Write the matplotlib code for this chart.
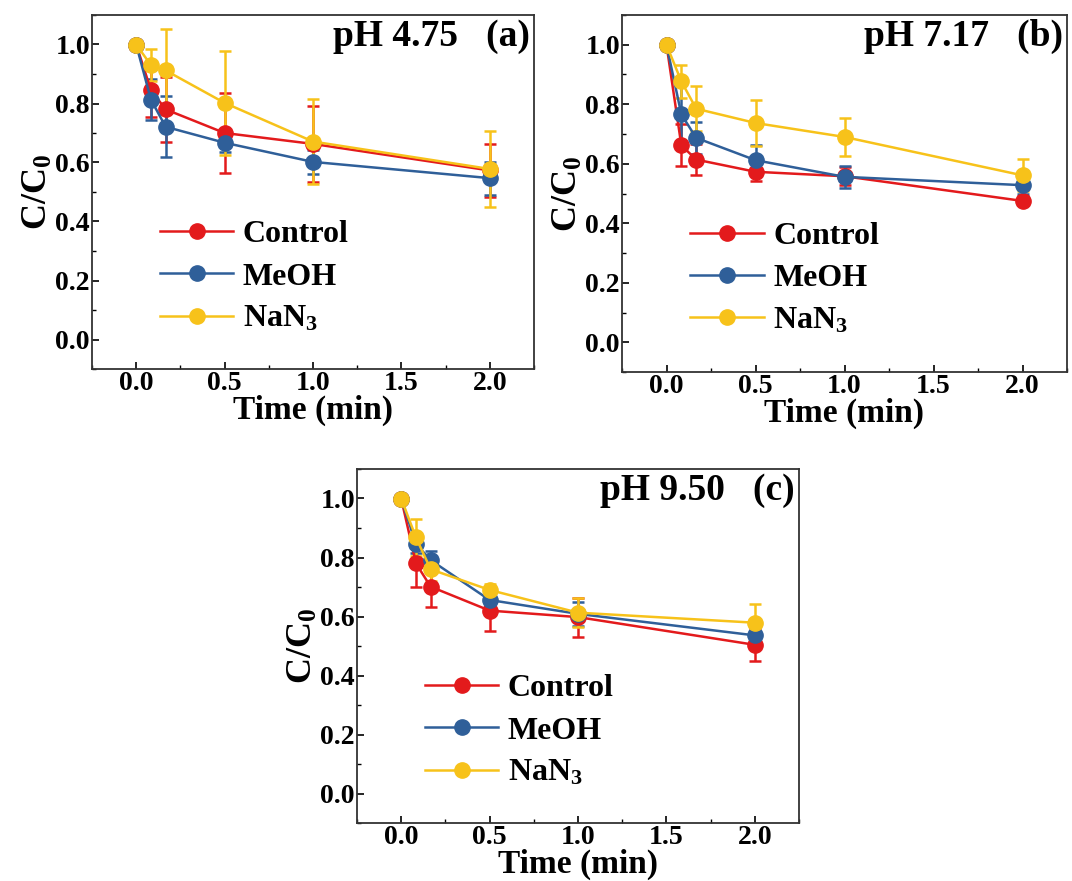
import numpy as np
import matplotlib
matplotlib.use("Agg")
import matplotlib.pyplot as plt
from matplotlib.lines import Line2D
from matplotlib.ticker import MultipleLocator

# ---------------------------------------------------------------------------
# Data
time = [0, 1 / 12, 1 / 6, 0.5, 1.0, 2.0]
series = ["Control", "MeOH", "NaN$_3$"]
colors = ["#e31a1c", "#2f5f99", "#f7c21a"]
panel_titles = ["pH 4.75   (a)", "pH 7.17   (b)", "pH 9.50   (c)"]

# pH 4.75
a_control = [1.0, 0.845, 0.78, 0.70, 0.663, 0.573]
a_control_err = [0, 0.09, 0.11, 0.137, 0.13, 0.09]
a_meoh = [1.0, 0.813, 0.721, 0.667, 0.602, 0.547]
a_meoh_err = [0, 0.07, 0.104, 0.03, 0.04, 0.056]
a_nan3 = [1.0, 0.93, 0.912, 0.802, 0.671, 0.578]
a_nan3_err = [0, 0.055, 0.14, 0.175, 0.143, 0.13]

# pH 7.17
b_control = [1.0, 0.662, 0.614, 0.573, 0.558, 0.475]
b_control_err = [0, 0.07, 0.053, 0.03, 0.03, 0.015]
b_meoh = [1.0, 0.766, 0.687, 0.612, 0.556, 0.528]
b_meoh_err = [0, 0.11, 0.053, 0.05, 0.038, 0.03]
b_nan3 = [1.0, 0.877, 0.785, 0.737, 0.69, 0.561]
b_nan3_err = [0, 0.056, 0.075, 0.078, 0.064, 0.054]

# pH 9.50
c_control = [1.0, 0.78, 0.701, 0.62, 0.598, 0.504]
c_control_err = [0, 0.08, 0.07, 0.07, 0.066, 0.054]
c_meoh = [1.0, 0.846, 0.791, 0.656, 0.609, 0.536]
c_meoh_err = [0, 0.03, 0.03, 0.03, 0.04, 0.03]
c_nan3 = [1.0, 0.868, 0.76, 0.69, 0.613, 0.579]
c_nan3_err = [0, 0.064, 0.04, 0.02, 0.05, 0.064]

panels = [
    [(a_control, a_control_err), (a_meoh, a_meoh_err), (a_nan3, a_nan3_err)],
    [(b_control, b_control_err), (b_meoh, b_meoh_err), (b_nan3, b_nan3_err)],
    [(c_control, c_control_err), (c_meoh, c_meoh_err), (c_nan3, c_nan3_err)],
]

# ---------------------------------------------------------------------------
plt.rcParams["font.family"] = ["Liberation Serif", "DejaVu Serif"]
plt.rcParams["font.weight"] = "bold"
plt.rcParams["mathtext.fontset"] = "custom"
plt.rcParams["mathtext.rm"] = "Liberation Serif:bold"
plt.rcParams["mathtext.it"] = "Liberation Serif:bold"
plt.rcParams["mathtext.bf"] = "Liberation Serif:bold"

W, H = 1072, 881
fig = plt.figure(figsize=(W / 100, H / 100), dpi=100)

# axes boxes in pixels: left, top, right, bottom
boxes = [(92, 15, 534, 369), (622, 15, 1067, 372), (357, 469, 799, 823)]


def add_axes(box):
    l, t, r, b = box
    return fig.add_axes([l / W, 1 - b / H, (r - l) / W, (b - t) / H])


for box, data, title in zip(boxes, panels, panel_titles):
    ax = add_axes(box)
    handles = []
    for (vals, errs), name, col in zip(data, series, colors):
        ax.errorbar(time, vals, yerr=errs, color=col, ecolor=col, lw=1.8,
                    elinewidth=1.8, capsize=4, capthick=1.8,
                    marker="o", markersize=11, markeredgecolor=col,
                    markerfacecolor=col)
        # sphere-like highlight
        ax.plot(time, vals, ls="none", marker="o", markersize=4,
                markerfacecolor="white", markeredgecolor="none", alpha=0.55)
        handles.append(Line2D([], [], color=col, lw=1.8, marker="o",
                              markersize=11, markerfacecolor=col,
                              markeredgecolor=col, label=name))

    ax.set_xlim(-0.25, 2.25)
    ax.set_ylim(-0.1, 1.1)
    ax.xaxis.set_major_locator(MultipleLocator(0.5))
    ax.xaxis.set_minor_locator(MultipleLocator(0.25))
    ax.yaxis.set_major_locator(MultipleLocator(0.2))
    ax.yaxis.set_minor_locator(MultipleLocator(0.1))
    ax.tick_params(which="both", direction="in", labelsize=20, pad=1.5)
    ax.tick_params(which="major", length=5, width=1.2)
    ax.tick_params(which="minor", length=3, width=1.0)
    for lab in ax.get_xticklabels() + ax.get_yticklabels():
        lab.set_fontweight("bold")
    for sp in ax.spines.values():
        sp.set_linewidth(1.3)
        sp.set_color("#333333")

    ax.set_xlabel("Time (min)", fontsize=24, fontweight="bold", labelpad=-1)
    ax.set_ylabel("C/C$_0$", fontsize=26, fontweight="bold", labelpad=0)
    ax.text(0.99, 0.99, title, transform=ax.transAxes, ha="right", va="top",
            fontsize=27, fontweight="bold")

    ax.legend(handles=handles, loc="upper left", bbox_to_anchor=(0.11, 0.475),
              frameon=False, handlelength=2.3, handletextpad=0.3,
              labelspacing=0.4, borderaxespad=0.2,
              prop={"weight": "bold", "size": 23})

fig.savefig("out.png", dpi=100)
